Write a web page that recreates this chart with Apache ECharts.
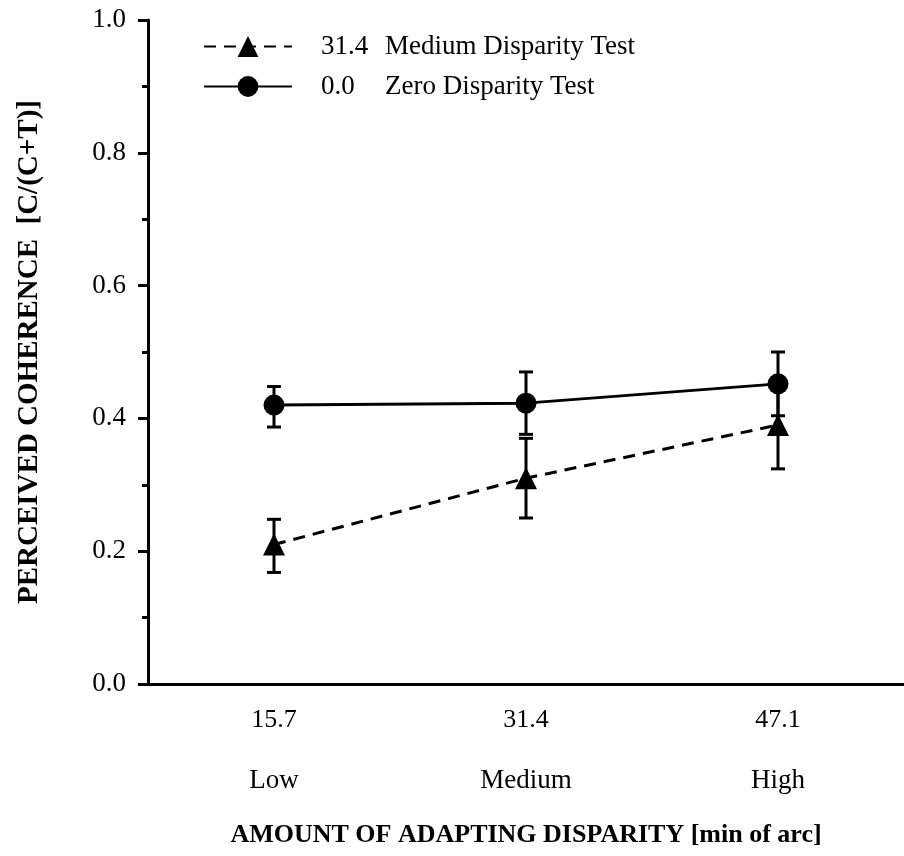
<!DOCTYPE html>
<html>
<head>
<meta charset="utf-8">
<script src="https://cdn.jsdelivr.net/npm/echarts@6/dist/echarts.min.js"></script>
<style>
  html, body { margin: 0; padding: 0; background: #fff; }
  #chart { width: 904px; height: 856px; }
</style>
</head>
<body>
<div id="chart"></div>
<script>
// x categories: adapting disparity (min of arc) + level
const disparities = ['15.7', '31.4', '47.1']
const levels = ['Low', 'Medium', 'High']

// series names (test disparity + label)
const mediumName = '31.4 Medium Disparity Test'
const zeroName = '0.0 Zero Disparity Test'

// perceived coherence values
const mediumMean = [0.21, 0.31, 0.39]
const mediumLow = [0.168, 0.25, 0.324]
const mediumHigh = [0.248, 0.37, 0.456]

const zeroMean = [0.42, 0.423, 0.452]
const zeroLow = [0.387, 0.376, 0.404]
const zeroHigh = [0.448, 0.47, 0.50]

const font = '"Liberation Serif", "Times New Roman", serif'

// error bar drawn as vertical line with caps
const errorBar = (params, api) => {
  const x = api.value(0)
  const top = api.coord([x, api.value(2)])
  const bot = api.coord([x, api.value(1)])
  const half = 7
  const style = { stroke: '#000', lineWidth: 3 }
  return {
    type: 'group',
    children: [
      { type: 'line', shape: { x1: top[0], y1: top[1], x2: bot[0], y2: bot[1] }, style },
      { type: 'line', shape: { x1: top[0] - half, y1: top[1], x2: top[0] + half, y2: top[1] }, style },
      { type: 'line', shape: { x1: bot[0] - half, y1: bot[1], x2: bot[0] + half, y2: bot[1] }, style }
    ]
  }
}

const chart = echarts.init(document.getElementById('chart'))

chart.setOption({
  backgroundColor: '#fff',
  animation: false,
  textStyle: { fontFamily: font, color: '#000' },
  legend: {
    orient: 'vertical',
    left: 198,
    top: 28,
    itemWidth: 88,
    itemHeight: 26,
    itemGap: 13,
    data: [mediumName, zeroName],
    formatter: (name) => {
      const i = name.indexOf(' ')
      return '{n|' + name.slice(0, i) + '}{t|' + name.slice(i + 1) + '}'
    },
    textStyle: {
      fontFamily: font,
      color: '#000',
      fontSize: 27,
      rich: {
        n: { fontFamily: font, fontSize: 27, color: '#000', width: 64, padding: [0, 0, 0, 24] },
        t: { fontFamily: font, fontSize: 27, color: '#000' }
      }
    }
  },
  grid: {
    left: 148,
    top: 20,
    bottom: 172,
    width: 762
  },
  xAxis: {
    type: 'category',
    data: disparities,
    boundaryGap: true,
    axisLine: { lineStyle: { color: '#000', width: 3 } },
    axisTick: { alignWithLabel: true, length: 11, lineStyle: { color: '#000', width: 3 } },
    axisLabel: {
      margin: 16,
      formatter: (v, i) => '{a|' + v + '}\n{b|' + levels[i] + '}',
      rich: {
        a: { fontFamily: font, fontSize: 26, color: '#000', lineHeight: 40 },
        b: { fontFamily: font, fontSize: 27, color: '#000', lineHeight: 82 }
      }
    },
    name: 'AMOUNT OF ADAPTING DISPARITY [min of arc]',
    nameLocation: 'middle',
    nameGap: 138,
    nameTextStyle: { fontFamily: font, fontSize: 26, fontWeight: 'bold', color: '#000' }
  },
  yAxis: {
    type: 'value',
    min: 0,
    max: 1,
    interval: 0.2,
    splitLine: { show: false },
    axisLine: { show: true, lineStyle: { color: '#000', width: 3 } },
    axisTick: { show: true, length: 10, lineStyle: { color: '#000', width: 3 } },
    minorTick: { show: true, splitNumber: 2, length: 6, lineStyle: { color: '#000', width: 3 } },
    axisLabel: {
      margin: 22,
      fontFamily: font,
      fontSize: 27,
      color: '#000',
      formatter: (v) => v.toFixed(1)
    },
    name: 'PERCEIVED COHERENCE  [C/(C+T)]',
    nameLocation: 'middle',
    nameGap: 104,
    nameTextStyle: { fontFamily: font, fontSize: 29, fontWeight: 'bold', color: '#000' }
  },
  series: [
    {
      name: mediumName,
      type: 'line',
      data: mediumMean,
      symbol: 'triangle',
      symbolSize: 22,
      itemStyle: { color: '#000' },
      lineStyle: { color: '#000', width: 3, type: [12, 8] },
      z: 3
    },
    {
      name: zeroName,
      type: 'line',
      data: zeroMean,
      symbol: 'circle',
      symbolSize: 21,
      itemStyle: { color: '#000' },
      lineStyle: { color: '#000', width: 3, type: 'solid' },
      z: 3
    },
    {
      type: 'custom',
      renderItem: errorBar,
      data: mediumLow.map((v, i) => [i, v, mediumHigh[i]]),
      encode: { x: 0, y: [1, 2] },
      z: 2
    },
    {
      type: 'custom',
      renderItem: errorBar,
      data: zeroLow.map((v, i) => [i, v, zeroHigh[i]]),
      encode: { x: 0, y: [1, 2] },
      z: 2
    }
  ]
})
</script>
</body>
</html>
